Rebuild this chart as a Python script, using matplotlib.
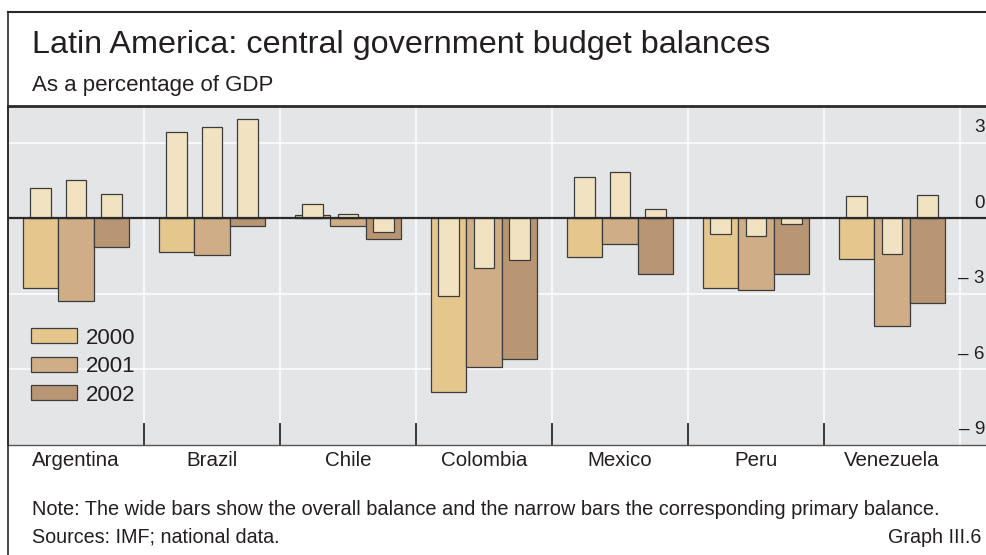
import numpy as np
import matplotlib
matplotlib.use("Agg")
import matplotlib.pyplot as plt
from matplotlib.patches import Patch
from matplotlib.lines import Line2D
import matplotlib.transforms as mtransforms

plt.rcParams['font.family'] = ['Liberation Sans', 'DejaVu Sans']

##### data (as a percentage of GDP)
countries = ['Argentina', 'Brazil', 'Chile', 'Colombia', 'Mexico', 'Peru', 'Venezuela']
years = ['2000', '2001', '2002']
# overall balance (wide bars)
overall_2000 = [-2.78, -1.34, 0.12, -6.90, -1.54, -2.77, -1.63]
overall_2001 = [-3.28, -1.46, -0.30, -5.92, -1.02, -2.83, -4.26]
overall_2002 = [-1.13, -0.29, -0.83, -5.60, -2.21, -2.23, -3.35]
# primary balance (narrow bars)
primary_2000 = [1.22, 3.44, 0.56, -3.09, 1.66, -0.62, 0.87]
primary_2001 = [1.52, 3.62, 0.17, -1.96, 1.85, -0.72, -1.42]
primary_2002 = [0.97, 3.93, -0.53, -1.66, 0.36, -0.23, 0.94]
ytick_vals = [3, 0, -3, -6, -9]
ytick_labels = ['3', '0', '\u2013 3', '\u2013 6', '\u2013 9']

W, H = 986, 555
fig = plt.figure(figsize=(W/100, H/100), dpi=100)
fig.patch.set_facecolor('white')

def fx(px):
    return px/W
def fy(py):
    return 1 - py/H

# axes from x=8..986, y=106..445 (pixels)
ax = fig.add_axes([fx(8), fy(445), 1 - fx(8), (445-106)/H])
ax.set_facecolor('#E4E5E7')

wide_cols = ['#E5C78E', '#CFAD86', '#B89673']
narrow_col = '#F1E3C1'
edge = '#3C3C3C'
wide_w = 0.26
narrow_w = 0.152

x = np.arange(len(countries))
overall = [overall_2000, overall_2001, overall_2002]
primary = [primary_2000, primary_2001, primary_2002]

for i in range(3):
    off = (i - 1)*wide_w
    ax.bar(x + off, overall[i], width=wide_w, color=wide_cols[i], edgecolor=edge,
           linewidth=0.9, zorder=3)
for i in range(3):
    off = (i - 1)*wide_w
    ax.bar(x + off, primary[i], width=narrow_w, color=narrow_col, edgecolor=edge,
           linewidth=0.9, zorder=4)

ax.axhline(0, color='#2a2a2a', lw=1.6, zorder=5)

ax.set_xlim(-0.5, -0.5 + (986-8)/136)
ax.set_ylim(-9, 4.46)

# white grid
for v in [3, -3, -6]:
    ax.axhline(v, color='white', lw=1.1, zorder=1)
for b in np.arange(len(countries)) + 0.5:
    ax.axvline(b, color='white', lw=1.1, zorder=1)

# category separators (dark ticks at bottom) + labels
ax.set_xticks(np.arange(len(countries) - 1) + 0.5)
ax.set_xticklabels([])
ax.tick_params(axis='x', which='major', direction='in', length=15.8, width=1.3,
               color='#2a2a2a')
ax.set_xticks(x, minor=True)
ax.set_xticklabels(countries, minor=True, fontsize=14.8, color='#231f20')
ax.tick_params(axis='x', which='minor', length=0, pad=4)
ax.set_yticks([])

ax.spines['right'].set_visible(False)
ax.spines['top'].set_linewidth(2.0)
ax.spines['top'].set_color('#2a2a2a')
ax.spines['bottom'].set_linewidth(1.0)
ax.spines['bottom'].set_color('#555555')
ax.spines['left'].set_linewidth(1.2)
ax.spines['left'].set_color('#2a2a2a')

# right-hand labels sitting above their lines
lab_tr = mtransforms.offset_copy(ax.transData, fig=fig, x=0, y=15, units='dots')
xr = ax.get_xlim()[0] + (985 - 8)/136
for v, t in zip(ytick_vals, ytick_labels):
    ax.text(xr, v, t, transform=lab_tr, ha='right', va='center', fontsize=13.6,
            color='#231f20', clip_on=False)

handles = [Patch(facecolor=c, edgecolor=edge, linewidth=0.9) for c in wide_cols]
leg = ax.legend(handles, years, loc='upper left',
                bbox_to_anchor=((30.7-8)/978, (445-327.5)/339), frameon=False,
                fontsize=16, handlelength=2.07, handleheight=0.68,
                handletextpad=0.42, labelspacing=0.34, borderpad=0,
                borderaxespad=0)
for t in leg.get_texts():
    t.set_color('#231f20')

# outer border
fig.add_artist(Line2D([fx(8), 1], [fy(12), fy(12)], color='#2a2a2a', lw=1.5))
fig.add_artist(Line2D([fx(8), fx(8)], [fy(12), 0], color='#2a2a2a', lw=1.2))

fig.text(fx(31.7), fy(53.3), 'Latin America: central government budget balances',
         fontsize=23.35, va='baseline', ha='left', color='#231f20')
fig.text(fx(31.7), fy(90.7), 'As a percentage of GDP', fontsize=16,
         va='baseline', ha='left', color='#231f20')
fig.text(fx(31.7), fy(515), 'Note: The wide bars show the overall balance and the '
         'narrow bars the corresponding primary balance.', fontsize=14.4,
         va='baseline', ha='left', color='#231f20')
fig.text(fx(31.7), fy(542.7), 'Sources: IMF; national data.', fontsize=14.2,
         va='baseline', ha='left', color='#231f20')
fig.text(fx(981), fy(542.7), 'Graph III.6', fontsize=14.2,
         va='baseline', ha='right', color='#231f20')

fig.savefig('out.png', dpi=100)
